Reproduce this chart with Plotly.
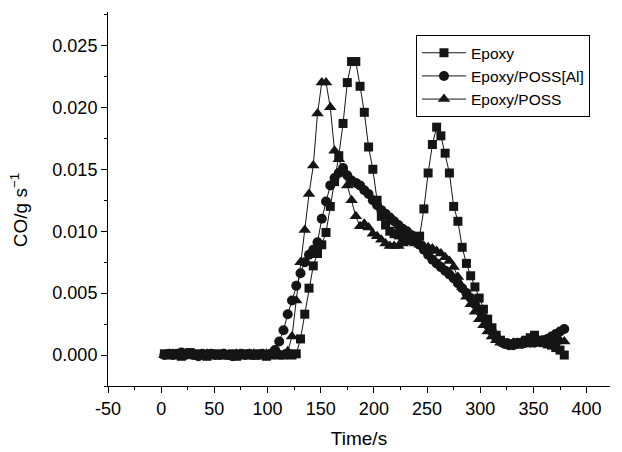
import plotly.graph_objects as go

time_s = [3, 7, 11, 15, 19, 23, 27, 31, 35, 39, 43, 47, 51, 55, 59, 63, 67, 71, 75, 79,
          83, 87, 91, 95, 99, 103, 107, 111, 115, 119, 123, 127, 131, 135, 139, 143, 147, 151, 155, 159,
          163, 167, 171, 175, 179, 183, 187, 191, 195, 199, 203, 207, 211, 215, 219, 223, 227, 231, 235, 239,
          243, 247, 251, 255, 259, 263, 267, 271, 275, 279, 283, 287, 291, 295, 299, 303, 307, 311, 315, 319,
          323, 327, 331, 335, 339, 343, 347, 351, 355, 359, 363, 367, 371, 375, 379]

epoxy = [0.0001, 0.0000, 0.0001, 0.0000, -0.0001, 0.0001, 0.0002, 0.0000, 0.0001, 0.0000,
         -0.0001, 0.0001, 0.0000, 0.0001, 0.0000, 0.0000, 0.0001, -0.0001, 0.0000, 0.0001,
         0.0000, 0.0000, 0.0001, 0.0000, -0.0001, 0.0000, 0.0001, 0.0000, 0.0000, 0.0001,
         0.0000, 0.0001, 0.0013, 0.0033, 0.0054, 0.0072, 0.0082, 0.0089, 0.0099, 0.0120,
         0.0140, 0.0161, 0.0187, 0.0220, 0.0237, 0.0237, 0.0217, 0.0196, 0.0168, 0.0150,
         0.0125, 0.0112, 0.0105, 0.0100, 0.0098, 0.0097, 0.0095, 0.0094, 0.0093, 0.0094,
         0.0096, 0.0118, 0.0147, 0.0170, 0.0184, 0.0177, 0.0163, 0.0147, 0.0120, 0.0108,
         0.0087, 0.0074, 0.0064, 0.0055, 0.0046, 0.0037, 0.0029, 0.0022, 0.0016, 0.0012,
         0.0010, 0.0009, 0.0009, 0.0010, 0.0010, 0.0012, 0.0014, 0.0016, 0.0012, 0.0010,
         0.0009, 0.0008, 0.0006, 0.0004, 0.0000]

epoxy_poss_al = [0.0000, 0.0001, 0.0000, 0.0001, 0.0002, 0.0000, 0.0001, 0.0000, -0.0001, 0.0001,
                 0.0000, 0.0001, 0.0000, 0.0000, 0.0001, 0.0000, -0.0001, 0.0000, 0.0001, 0.0000,
                 0.0001, 0.0000, 0.0000, 0.0001, 0.0000, 0.0001, 0.0004, 0.0011, 0.0020, 0.0033,
                 0.0044, 0.0056, 0.0066, 0.0075, 0.0081, 0.0085, 0.0091, 0.0110, 0.0124, 0.0137,
                 0.0143, 0.0147, 0.0151, 0.0145, 0.0141, 0.0139, 0.0137, 0.0133, 0.0130, 0.0125,
                 0.0121, 0.0117, 0.0114, 0.0111, 0.0108, 0.0105, 0.0102, 0.0100, 0.0097, 0.0094,
                 0.0089, 0.0085, 0.0081, 0.0077, 0.0074, 0.0071, 0.0068, 0.0065, 0.0062, 0.0058,
                 0.0054, 0.0050, 0.0046, 0.0041, 0.0036, 0.0030, 0.0024, 0.0019, 0.0014, 0.0011,
                 0.0009, 0.0008, 0.0008, 0.0009, 0.0009, 0.0010, 0.0010, 0.0010, 0.0011, 0.0012,
                 0.0013, 0.0015, 0.0017, 0.0019, 0.0021]

epoxy_poss = [0.0000, 0.0000, 0.0001, 0.0000, 0.0000, 0.0001, 0.0000, 0.0001, 0.0000, 0.0000,
              0.0001, 0.0000, -0.0001, 0.0000, 0.0001, 0.0000, 0.0000, 0.0001, 0.0000, 0.0000,
              0.0000, 0.0001, 0.0000, 0.0000, 0.0001, 0.0000, 0.0000, 0.0001, 0.0000, 0.0003,
              0.0015, 0.0044, 0.0075, 0.0101, 0.0130, 0.0153, 0.0195, 0.0220, 0.0220, 0.0200,
              0.0165, 0.0158, 0.0150, 0.0137, 0.0125, 0.0112, 0.0104, 0.0106, 0.0103, 0.0098,
              0.0096, 0.0093, 0.0090, 0.0088, 0.0088, 0.0088, 0.0090, 0.0091, 0.0091, 0.0090,
              0.0089, 0.0088, 0.0087, 0.0086, 0.0084, 0.0082, 0.0079, 0.0076, 0.0071, 0.0063,
              0.0055, 0.0047, 0.0041, 0.0035, 0.0029, 0.0024, 0.0019, 0.0015, 0.0012, 0.0010,
              0.0009, 0.0009, 0.0010, 0.0010, 0.0011, 0.0011, 0.0010, 0.0010, 0.0011, 0.0011,
              0.0010, 0.0010, 0.0011, 0.0012, 0.0011]

series_names = ["Epoxy", "Epoxy/POSS[Al]", "Epoxy/POSS"]
x_ticks = [-50, 0, 50, 100, 150, 200, 250, 300, 350, 400]
y_ticks = [0.000, 0.005, 0.010, 0.015, 0.020, 0.025]

assert len(time_s) == len(epoxy) == len(epoxy_poss_al) == len(epoxy_poss)

ink = "#151515"
fig = go.Figure()
for name, vals, sym, sz in [
    (series_names[0], epoxy, "square", 9),
    (series_names[1], epoxy_poss_al, "circle", 10),
    (series_names[2], epoxy_poss, "triangle-up", 11),
]:
    fig.add_trace(go.Scatter(
        x=time_s, y=vals, name=name, mode="lines+markers",
        line=dict(color=ink, width=1),
        marker=dict(symbol=sym, size=sz, color=ink, line=dict(width=0)),
    ))

font_family = "Liberation Sans, Arial, Helvetica, sans-serif"
# page body has an 8px default margin, so the figure is sized to fit the 622x452 window
fig.update_layout(
    width=614, height=444,
    margin=dict(l=100, r=12, t=4, b=66),
    paper_bgcolor="white", plot_bgcolor="white",
    font=dict(family=font_family, size=18, color="black"),
    showlegend=True,
    legend=dict(
        x=0.6135, y=0.938, xanchor="left", yanchor="top",
        bgcolor="white", bordercolor="black", borderwidth=1,
        font=dict(size=15.5), tracegroupgap=0, itemwidth=44,
    ),
    xaxis=dict(
        range=[-50, 422], tickvals=x_ticks, ticktext=[str(v) for v in x_ticks],
        showgrid=False, zeroline=False, showline=True, linecolor="black", linewidth=1,
        ticks="outside", ticklen=6, tickcolor="black", automargin=False,
        tickfont=dict(size=18),
        minor=dict(dtick=25, ticks="outside", ticklen=3, tickcolor="black"),
        title=dict(text="Time/s", standoff=14, font=dict(size=19)),
    ),
    yaxis=dict(
        range=[-0.0025, 0.0277], tickvals=y_ticks, ticktext=[f"{v:.3f}" for v in y_ticks],
        showgrid=False, zeroline=False, showline=True, linecolor="black", linewidth=1,
        ticks="outside", ticklen=6, tickcolor="black", automargin=False,
        tickfont=dict(size=18),
        minor=dict(dtick=0.0025, ticks="outside", ticklen=3, tickcolor="black"),
    ),
    annotations=[dict(
        text="CO/g s<sup>−1</sup>", textangle=-90, showarrow=False,
        xref="paper", yref="paper", x=0, y=0.47, xanchor="center", yanchor="middle",
        xshift=-89, font=dict(size=19),
    )],
)

fig.write_html("out.html")
